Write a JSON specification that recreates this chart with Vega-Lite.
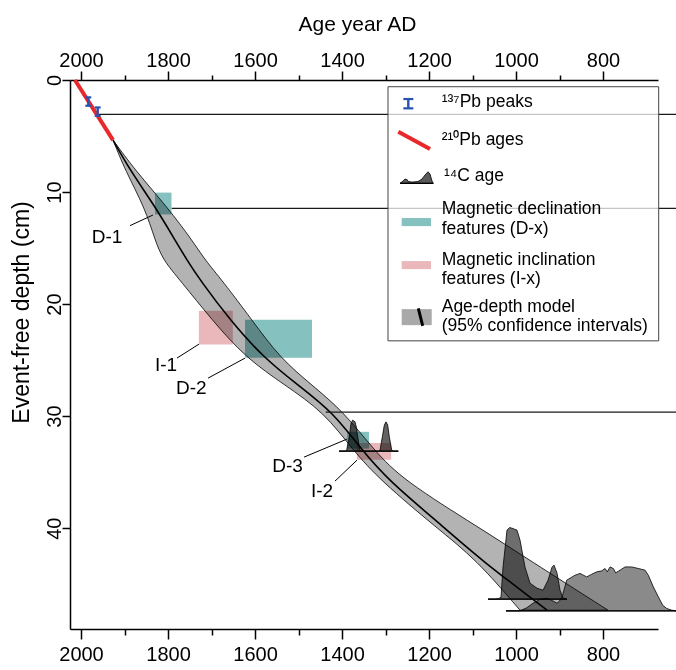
{
  "$schema": "https://vega.github.io/schema/vega-lite/v6.json",
  "width": 588,
  "height": 549,
  "autosize": {"type": "none"},
  "padding": {"left": 70, "top": 80, "right": 18, "bottom": 41},
  "background": "white",
  "config": {
    "view": {"stroke": null},
    "axis": {
      "domainColor": "black", "domainWidth": 1.5, "tickColor": "black", "tickWidth": 1.5,
      "labelColor": "black", "labelFont": "Liberation Sans", "labelFontSize": 20,
      "titleFont": "Liberation Sans", "titleFontSize": 21, "titleFontWeight": "normal", "titleColor": "black",
      "grid": false, "labelFlush": false, "labelOverlap": false
    }
  },
  "datasets": {
    "band": [
      {"y": 5.357, "x": 1926.4, "m": 1926.4, "x2": 1926.4},
      {"y": 8.036, "x": 1898.8, "m": 1887.4, "x2": 1875.9},
      {"y": 11.429, "x": 1852.9, "m": 1827.6, "x2": 1800.0},
      {"y": 14.286, "x": 1829.9, "m": 1783.9, "x2": 1744.8},
      {"y": 16.071, "x": 1811.5, "m": 1756.3, "x2": 1714.9},
      {"y": 17.857, "x": 1772.4, "m": 1726.4, "x2": 1675.9},
      {"y": 21.429, "x": 1698.8, "m": 1657.5, "x2": 1606.9},
      {"y": 24.821, "x": 1620.7, "m": 1579.3, "x2": 1542.5},
      {"y": 27.232, "x": 1531.0, "m": 1501.1, "x2": 1469.0},
      {"y": 29.643, "x": 1441.4, "m": 1420.7, "x2": 1395.4},
      {"y": 33.036, "x": 1374.8, "m": 1354.0, "x2": 1326.4},
      {"y": 35.714, "x": 1312.6, "m": 1294.2, "x2": 1259.8},
      {"y": 40.0, "x": 1181.6, "m": 1163.2, "x2": 1082.7},
      {"y": 42.768, "x": 1091.9, "m": 1082.7, "x2": 972.4},
      {"y": 47.321, "x": 990.8, "m": 928.7, "x2": 788.5}
    ],
    "c14": [
      {"g": "C", "x": 1406.9, "y": 33.13, "y2": 33.13},
      {"g": "C", "x": 1392.0, "y": 33.13, "y2": 33.13},
      {"g": "C", "x": 1389.2, "y": 33.0, "y2": 33.13},
      {"g": "C", "x": 1385.5, "y": 32.3, "y2": 33.13},
      {"g": "C", "x": 1383.2, "y": 31.85, "y2": 33.13},
      {"g": "C", "x": 1379.3, "y": 30.65, "y2": 33.13},
      {"g": "C", "x": 1375.4, "y": 30.36, "y2": 33.13},
      {"g": "C", "x": 1370.1, "y": 30.51, "y2": 33.13},
      {"g": "C", "x": 1367.0, "y": 31.0, "y2": 33.13},
      {"g": "C", "x": 1364.8, "y": 31.54, "y2": 33.13},
      {"g": "C", "x": 1361.0, "y": 32.6, "y2": 33.13},
      {"g": "C", "x": 1358.6, "y": 33.04, "y2": 33.13},
      {"g": "C", "x": 1354.0, "y": 33.13, "y2": 33.13},
      {"g": "C", "x": 1316.0, "y": 33.13, "y2": 33.13},
      {"g": "C", "x": 1312.6, "y": 33.04, "y2": 33.13},
      {"g": "C", "x": 1307.3, "y": 31.85, "y2": 33.13},
      {"g": "C", "x": 1302.7, "y": 30.8, "y2": 33.13},
      {"g": "C", "x": 1298.9, "y": 30.51, "y2": 33.13},
      {"g": "C", "x": 1295.0, "y": 30.8, "y2": 33.13},
      {"g": "C", "x": 1291.3, "y": 31.85, "y2": 33.13},
      {"g": "C", "x": 1285.7, "y": 33.04, "y2": 33.13},
      {"g": "C", "x": 1282.0, "y": 33.13, "y2": 33.13},
      {"g": "C", "x": 1270.6, "y": 33.13, "y2": 33.13},
      {"g": "A", "x": 1064.4, "y": 46.34, "y2": 46.34},
      {"g": "A", "x": 1048.3, "y": 46.34, "y2": 46.34},
      {"g": "A", "x": 1040.0, "y": 46.3, "y2": 46.34},
      {"g": "A", "x": 1034.5, "y": 46.16, "y2": 46.34},
      {"g": "A", "x": 1029.9, "y": 43.48, "y2": 46.34},
      {"g": "A", "x": 1020.7, "y": 40.18, "y2": 46.34},
      {"g": "A", "x": 1015.0, "y": 39.95, "y2": 46.34},
      {"g": "A", "x": 1009.2, "y": 40.0, "y2": 46.34},
      {"g": "A", "x": 1003.0, "y": 40.1, "y2": 46.34},
      {"g": "A", "x": 997.7, "y": 40.18, "y2": 46.34},
      {"g": "A", "x": 990.8, "y": 41.07, "y2": 46.34},
      {"g": "A", "x": 979.3, "y": 43.48, "y2": 46.34},
      {"g": "A", "x": 967.8, "y": 44.91, "y2": 46.34},
      {"g": "A", "x": 951.7, "y": 45.36, "y2": 46.34},
      {"g": "A", "x": 937.9, "y": 45.54, "y2": 46.34},
      {"g": "A", "x": 926.4, "y": 44.64, "y2": 46.34},
      {"g": "A", "x": 917.2, "y": 43.48, "y2": 46.34},
      {"g": "A", "x": 912.6, "y": 43.3, "y2": 46.34},
      {"g": "A", "x": 905.7, "y": 44.02, "y2": 46.34},
      {"g": "A", "x": 898.8, "y": 45.54, "y2": 46.34},
      {"g": "A", "x": 891.9, "y": 46.25, "y2": 46.34},
      {"g": "A", "x": 882.8, "y": 46.34, "y2": 46.34},
      {"g": "B", "x": 1023.0, "y": 47.38, "y2": 47.38},
      {"g": "B", "x": 990.8, "y": 47.38, "y2": 47.38},
      {"g": "B", "x": 975.0, "y": 47.1, "y2": 47.38},
      {"g": "B", "x": 960.9, "y": 46.7, "y2": 47.38},
      {"g": "B", "x": 945.0, "y": 46.35, "y2": 47.38},
      {"g": "B", "x": 928.7, "y": 46.25, "y2": 47.38},
      {"g": "B", "x": 915.0, "y": 46.5, "y2": 47.38},
      {"g": "B", "x": 905.7, "y": 46.7, "y2": 47.38},
      {"g": "B", "x": 900.0, "y": 46.5, "y2": 47.38},
      {"g": "B", "x": 894.3, "y": 46.16, "y2": 47.38},
      {"g": "B", "x": 883.4, "y": 44.64, "y2": 47.38},
      {"g": "B", "x": 864.3, "y": 44.2, "y2": 47.38},
      {"g": "B", "x": 852.8, "y": 44.04, "y2": 47.38},
      {"g": "B", "x": 837.4, "y": 44.35, "y2": 47.38},
      {"g": "B", "x": 825.9, "y": 44.11, "y2": 47.38},
      {"g": "B", "x": 814.4, "y": 43.9, "y2": 47.38},
      {"g": "B", "x": 802.9, "y": 43.81, "y2": 47.38},
      {"g": "B", "x": 795.4, "y": 43.6, "y2": 47.38},
      {"g": "B", "x": 790.1, "y": 43.9, "y2": 47.38},
      {"g": "B", "x": 783.9, "y": 43.46, "y2": 47.38},
      {"g": "B", "x": 776.3, "y": 43.6, "y2": 47.38},
      {"g": "B", "x": 770.8, "y": 43.99, "y2": 47.38},
      {"g": "B", "x": 760.9, "y": 43.75, "y2": 47.38},
      {"g": "B", "x": 749.4, "y": 43.46, "y2": 47.38},
      {"g": "B", "x": 734.0, "y": 43.46, "y2": 47.38},
      {"g": "B", "x": 718.8, "y": 43.6, "y2": 47.38},
      {"g": "B", "x": 703.4, "y": 43.75, "y2": 47.38},
      {"g": "B", "x": 695.8, "y": 44.2, "y2": 47.38},
      {"g": "B", "x": 684.3, "y": 45.24, "y2": 47.38},
      {"g": "B", "x": 672.8, "y": 46.13, "y2": 47.38},
      {"g": "B", "x": 662.8, "y": 46.88, "y2": 47.38},
      {"g": "B", "x": 653.5, "y": 47.17, "y2": 47.38},
      {"g": "B", "x": 642.0, "y": 47.32, "y2": 47.38},
      {"g": "B", "x": 632.0, "y": 47.38, "y2": 47.38}
    ],
    "c14leg": [
      {"g": "L", "x": 1266.7, "y": 9.22, "y2": 9.22},
      {"g": "L", "x": 1259.8, "y": 9.02, "y2": 9.22},
      {"g": "L", "x": 1255.2, "y": 8.84, "y2": 9.22},
      {"g": "L", "x": 1250.0, "y": 8.9, "y2": 9.22},
      {"g": "L", "x": 1248.3, "y": 9.06, "y2": 9.22},
      {"g": "L", "x": 1239.1, "y": 9.11, "y2": 9.22},
      {"g": "L", "x": 1225.3, "y": 9.06, "y2": 9.22},
      {"g": "L", "x": 1216.1, "y": 8.84, "y2": 9.22},
      {"g": "L", "x": 1209.2, "y": 8.48, "y2": 9.22},
      {"g": "L", "x": 1202.3, "y": 8.19, "y2": 9.22},
      {"g": "L", "x": 1197.7, "y": 8.39, "y2": 9.22},
      {"g": "L", "x": 1193.1, "y": 9.02, "y2": 9.22},
      {"g": "L", "x": 1190.1, "y": 9.22, "y2": 9.22}
    ],
    "bases": [
      {"y": 33.13, "x": 1406.9, "x2": 1270.6},
      {"y": 46.34, "x": 1064.4, "x2": 882.8},
      {"y": 47.38, "x": 1023.0, "x2": 632.0}
    ],
    "basesleg": [
      {"y": 9.22, "x": 1266.7, "x2": 1190.1}
    ],
    "hlines": [
      {"y": 3.06, "x": 1959.0, "x2": 632.0},
      {"y": 11.46, "x": 1791.5, "x2": 632.0},
      {"y": 29.64, "x": 1437.5, "x2": 632.0}
    ],
    "legbox": [
      {"x": 1294.3, "x2": 672.0, "y": 0.6, "y2": 23.28}
    ],
    "rects": [
      {"k": "D", "x": 1830.0, "x2": 1792.0, "y": 10.05, "y2": 12.0},
      {"k": "I", "x": 1729.0, "x2": 1651.0, "y": 20.6, "y2": 23.6},
      {"k": "D", "x": 1623.0, "x2": 1469.0, "y": 21.4, "y2": 24.8},
      {"k": "D", "x": 1388.0, "x2": 1338.0, "y": 31.4, "y2": 32.9},
      {"k": "I", "x": 1366.0, "x2": 1287.0, "y": 32.4, "y2": 33.9},
      {"k": "D", "x": 1262.8, "x2": 1195.4, "y": 12.32, "y2": 13.04},
      {"k": "I", "x": 1262.8, "x2": 1195.4, "y": 16.16, "y2": 16.88}
    ],
    "red": [
      {"g": "a", "x": 2014.0, "y": 0.0},
      {"g": "a", "x": 1926.4, "y": 5.36},
      {"g": "b", "x": 1270.6, "y": 4.61},
      {"g": "b", "x": 1197.7, "y": 6.16}
    ],
    "bars": [
      {"x": 1983.2, "y": 1.55, "y2": 2.3},
      {"x": 1961.6, "y": 2.45, "y2": 3.2},
      {"x": 1247.6, "y": 1.7, "y2": 2.53}
    ],
    "caps": [
      {"x": 1990.0, "x2": 1976.4, "y": 1.55},
      {"x": 1990.0, "x2": 1976.4, "y": 2.3},
      {"x": 1968.4, "x2": 1954.8, "y": 2.45},
      {"x": 1968.4, "x2": 1954.8, "y": 3.2},
      {"x": 1259.0, "x2": 1236.0, "y": 1.7},
      {"x": 1259.0, "x2": 1236.0, "y": 2.53}
    ],
    "leaders": [
      {"x": 1887.4, "y": 13.0, "x2": 1834.5, "y2": 12.05},
      {"x": 1779.3, "y": 24.82, "x2": 1728.7, "y2": 23.57},
      {"x": 1708.0, "y": 26.61, "x2": 1622.9, "y2": 24.82},
      {"x": 1487.3, "y": 33.66, "x2": 1388.5, "y2": 32.05},
      {"x": 1416.1, "y": 35.8, "x2": 1365.5, "y2": 33.93}
    ],
    "labels": [
      {"x": 1940.2, "y": 14.53, "t": "D-1"},
      {"x": 1804.6, "y": 25.96, "t": "I-1"},
      {"x": 1746.4, "y": 28.06, "t": "D-2"},
      {"x": 1525.3, "y": 35.03, "t": "D-3"},
      {"x": 1445.9, "y": 37.23, "t": "I-2"}
    ],
    "legtext": [
      {"x": 1170.8, "y": 2.44, "t": "¹³⁷Pb peaks"},
      {"x": 1170.8, "y": 5.8, "t": "²¹⁰Pb ages"},
      {"x": 1165.5, "y": 9.02, "t": "¹⁴C age"},
      {"x": 1170.8, "y": 11.99, "t": "Magnetic declination"},
      {"x": 1170.8, "y": 13.78, "t": "features (D-x)"},
      {"x": 1170.8, "y": 16.52, "t": "Magnetic inclination"},
      {"x": 1170.8, "y": 18.21, "t": "features (I-x)"},
      {"x": 1170.8, "y": 20.74, "t": "Age-depth model"},
      {"x": 1170.8, "y": 22.38, "t": "(95% confidence intervals)"}
    ],
    "leggray": [
      {"y": 21.165, "x": 1262.8, "x2": 1193.8}
    ],
    "legslash": [
      {"x": 1224.6, "y": 20.38, "x2": 1214.5, "y2": 21.94}
    ]
  },
  "encoding": {
    "x": {"field": "x", "type": "quantitative", "scale": {"domain": [673.6, 2025.3], "reverse": true, "nice": false, "zero": false}, "axis": null},
    "y": {"field": "y", "type": "quantitative", "scale": {"domain": [0, 49], "reverse": true, "nice": false, "zero": false}, "axis": null}
  },
  "resolve": {"axis": {"x": "independent", "y": "independent"}, "scale": {"color": "independent"}},
  "layer": [
    {
      "data": {"name": "band"},
      "mark": {"type": "area", "orient": "horizontal", "interpolate": "basis", "fill": "#b3b3b3", "stroke": "black", "strokeWidth": 0.8},
      "encoding": {
        "x": {"field": "x", "type": "quantitative", "scale": {"domain": [673.6, 2025.3], "reverse": true, "nice": false, "zero": false},
          "axis": {"orient": "top", "title": "Age year AD", "titleX": 287, "values": [2000, 1900, 1800, 1700, 1600, 1500, 1400, 1300, 1200, 1100, 1000, 900, 800],
            "format": "d", "labelExpr": "datum.value % 200 === 0 ? '' + datum.value : ''",
            "tickSize": {"condition": {"test": "datum.value % 200 === 0", "value": 9}, "value": 5},
            "labelPadding": 1, "titlePadding": 16}},
        "x2": {"field": "x2"},
        "y": {"field": "y", "type": "quantitative", "scale": {"domain": [0, 49], "reverse": true, "nice": false, "zero": false},
          "axis": {"orient": "left", "title": "Event-free depth (cm)", "titleFontSize": 23, "titleY": 232, "values": [0, 10, 20, 30, 40], "format": "d",
            "tickSize": 8, "labelAngle": -90, "labelAlign": "center", "labelBaseline": "alphabetic", "labelPadding": 2, "titlePadding": 11}}
      }
    },
    {
      "data": {"name": "band"},
      "mark": {"type": "line", "color": "black", "strokeWidth": 1.6, "interpolate": "basis"},
      "encoding": {
        "x": {"field": "m", "type": "quantitative", "scale": {"domain": [673.6, 2025.3], "reverse": true, "nice": false, "zero": false}, "axis": null},
        "order": {"field": "y", "type": "quantitative"}
      }
    },
    {
      "data": {"name": "c14"},
      "mark": {"type": "area", "stroke": "black", "strokeWidth": 0.8, "blend": "multiply", "fillOpacity": 1},
      "encoding": {
        "y2": {"field": "y2"},
        "detail": {"field": "g"},
        "color": {"field": "g", "type": "nominal", "scale": {"domain": ["A", "B", "C"], "range": ["#6e6e6e", "#8a8a8a", "#636363"]}, "legend": null}
      }
    },
    {
      "data": {"name": "bases"},
      "mark": {"type": "rule", "color": "black", "strokeWidth": 1.2},
      "encoding": {"x2": {"field": "x2"}}
    },
    {
      "data": {"name": "hlines"},
      "mark": {"type": "rule", "color": "#1a1a1a", "strokeWidth": 1.2},
      "encoding": {"x2": {"field": "x2"}}
    },
    {
      "data": {"name": "legbox"},
      "mark": {"type": "rect", "fill": "white", "fillOpacity": 0.75, "stroke": "#444444", "strokeWidth": 1},
      "encoding": {
        "x": {"field": "x", "type": "quantitative", "scale": {"domain": [673.6, 2025.3], "reverse": true, "nice": false, "zero": false},
          "axis": {"orient": "bottom", "title": null, "values": [2000, 1900, 1800, 1700, 1600, 1500, 1400, 1300, 1200, 1100, 1000, 900, 800],
            "format": "d", "labelExpr": "datum.value % 200 === 0 ? '' + datum.value : ''",
            "tickSize": {"condition": {"test": "datum.value % 200 === 0", "value": 10}, "value": 6},
            "labelPadding": 5}},
        "x2": {"field": "x2"},
        "y2": {"field": "y2"}
      }
    },
    {
      "data": {"name": "rects"},
      "mark": {"type": "rect", "blend": "multiply"},
      "encoding": {
        "x2": {"field": "x2"},
        "y2": {"field": "y2"},
        "color": {"field": "k", "type": "nominal", "scale": {"domain": ["D", "I"], "range": ["#84c1bf", "#eab8bb"]}, "legend": null}
      }
    },
    {
      "data": {"name": "c14leg"},
      "mark": {"type": "area", "stroke": "black", "strokeWidth": 0.8, "fill": "#5a5a5a"},
      "encoding": {"y2": {"field": "y2"}}
    },
    {
      "data": {"name": "basesleg"},
      "mark": {"type": "rule", "color": "black", "strokeWidth": 1.2},
      "encoding": {"x2": {"field": "x2"}}
    },
    {
      "data": {"name": "red"},
      "mark": {"type": "line", "color": "#e8282b", "strokeWidth": 4, "strokeCap": "butt"},
      "encoding": {"detail": {"field": "g"}, "order": {"field": "y", "type": "quantitative"}}
    },
    {
      "data": {"name": "bars"},
      "mark": {"type": "rule", "color": "#2a52b0", "strokeWidth": 2.4},
      "encoding": {"y2": {"field": "y2"}}
    },
    {
      "data": {"name": "caps"},
      "mark": {"type": "rule", "color": "#2a52b0", "strokeWidth": 2.2},
      "encoding": {"x2": {"field": "x2"}}
    },
    {
      "data": {"name": "leaders"},
      "mark": {"type": "rule", "color": "black", "strokeWidth": 1},
      "encoding": {"x2": {"field": "x2"}, "y2": {"field": "y2"}}
    },
    {
      "data": {"name": "labels"},
      "mark": {"type": "text", "font": "Liberation Sans", "fontSize": 19, "align": "center", "baseline": "alphabetic", "color": "black"},
      "encoding": {"text": {"field": "t"}}
    },
    {
      "data": {"name": "leggray"},
      "mark": {"type": "rule", "color": "#a9a9a9", "strokeWidth": 16, "strokeCap": "butt"},
      "encoding": {"x2": {"field": "x2"}}
    },
    {
      "data": {"name": "legslash"},
      "mark": {"type": "rule", "color": "black", "strokeWidth": 3},
      "encoding": {"x2": {"field": "x2"}, "y2": {"field": "y2"}}
    },
    {
      "data": {"name": "legtext"},
      "mark": {"type": "text", "font": "Liberation Sans", "fontSize": 17.5, "align": "left", "baseline": "alphabetic", "color": "black"},
      "encoding": {"text": {"field": "t"}}
    }
  ]
}
